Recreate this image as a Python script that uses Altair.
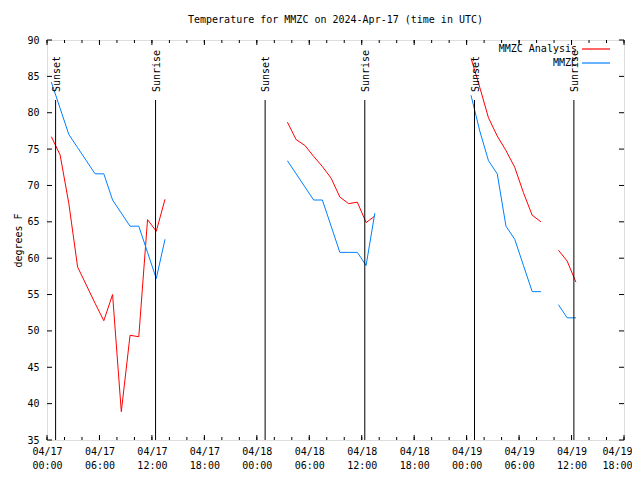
import altair as alt
import pandas as pd

FONT = "DejaVu Sans Mono"

series_names = ["MMZC Analysis", "MMZC"]
series_colors = ["#ff0000", "#0080ff"]

# segment 1 (04/17)
seg1_times = ["2024-04-17T00:30:00Z", "2024-04-17T01:30:00Z", "2024-04-17T02:30:00Z",
              "2024-04-17T03:30:00Z", "2024-04-17T04:30:00Z", "2024-04-17T05:30:00Z",
              "2024-04-17T06:30:00Z", "2024-04-17T07:30:00Z", "2024-04-17T08:30:00Z",
              "2024-04-17T09:30:00Z", "2024-04-17T10:30:00Z", "2024-04-17T11:30:00Z",
              "2024-04-17T12:30:00Z", "2024-04-17T13:30:00Z"]
seg1_analysis = [76.7, 74.2, 67.5, 58.8, 56.3, 53.8, 51.4, 55.0, 38.9, 49.4, 49.2, 65.3, 63.7, 68.1]
seg1_obs = [84.2, 80.6, 77.0, 75.2, 73.4, 71.6, 71.6, 68.0, 66.2, 64.4, 64.4, 60.8, 57.2, 62.6]

# segment 2 (04/18)
seg2_times = ["2024-04-18T03:30:00Z", "2024-04-18T04:30:00Z", "2024-04-18T05:30:00Z",
              "2024-04-18T06:30:00Z", "2024-04-18T07:30:00Z", "2024-04-18T08:30:00Z",
              "2024-04-18T09:30:00Z", "2024-04-18T10:30:00Z", "2024-04-18T11:30:00Z",
              "2024-04-18T12:30:00Z", "2024-04-18T13:30:00Z"]
seg2_analysis = [78.7, 76.3, 75.5, 74.0, 72.6, 71.0, 68.4, 67.5, 67.7, 64.9, 65.8]
seg2_obs = [73.4, 71.6, 69.8, 68.0, 68.0, 64.4, 60.8, 60.8, 60.8, 59.0, 66.2]

# segment 3 (04/19 night)
seg3_times = ["2024-04-19T00:30:00Z", "2024-04-19T01:30:00Z", "2024-04-19T02:30:00Z",
              "2024-04-19T03:30:00Z", "2024-04-19T04:30:00Z", "2024-04-19T05:30:00Z",
              "2024-04-19T06:30:00Z", "2024-04-19T07:30:00Z", "2024-04-19T08:30:00Z"]
seg3_analysis = [87.5, 83.5, 79.3, 76.8, 74.8, 72.5, 69.0, 65.9, 65.0]
seg3_obs = [82.4, 77.5, 73.4, 71.6, 64.4, 62.6, 59.0, 55.4, 55.4]

# segment 4 (04/19 morning)
seg4_times = ["2024-04-19T10:30:00Z", "2024-04-19T11:30:00Z", "2024-04-19T12:30:00Z"]
seg4_analysis = [61.1, 59.6, 56.7]
seg4_obs = [53.6, 51.8, 51.8]

sun_times = ["2024-04-17T00:59:00Z", "2024-04-17T12:25:00Z", "2024-04-18T00:57:00Z",
             "2024-04-18T12:21:00Z", "2024-04-19T00:54:00Z", "2024-04-19T12:16:00Z"]
sun_labels = ["Sunset", "Sunrise", "Sunset", "Sunrise", "Sunset", "Sunrise"]

y_ticks = [35, 40, 45, 50, 55, 60, 65, 70, 75, 80, 85, 90]
x_label_days = [17, 17, 17, 17, 18, 18, 18, 18, 19, 19, 19, 19]
x_label_hours = [0, 6, 12, 18, 0, 6, 12, 18, 0, 6, 12, 18]

W, H = 577, 400

rows = []
segments = [(seg1_times, seg1_analysis, seg1_obs), (seg2_times, seg2_analysis, seg2_obs),
            (seg3_times, seg3_analysis, seg3_obs), (seg4_times, seg4_analysis, seg4_obs)]
for si, (tt, a, o) in enumerate(segments):
    for t, v in zip(tt, a):
        rows.append({"time": t, "temp": v, "series": series_names[0], "key": f"a{si}"})
    for t, v in zip(tt, o):
        rows.append({"time": t, "temp": v, "series": series_names[1], "key": f"o{si}"})
df = pd.DataFrame(rows)

x_major = [pd.Timestamp(f"2024-04-{d}T{h:02d}:00:00Z").isoformat() for d, h in zip(x_label_days, x_label_hours)]
x_minor = [t.isoformat() for t in pd.date_range("2024-04-17T00:00:00Z", "2024-04-19T18:00:00Z", freq="2h")]

x_scale = alt.Scale(type="utc",
                    domain=[alt.DateTime(year=2024, month=4, date=17, hours=0, utc=True),
                            alt.DateTime(year=2024, month=4, date=19, hours=18, utc=True)])
y_scale = alt.Scale(domain=[35, 90], nice=False, zero=False)

x_axis = alt.Axis(values=[alt.DateTime(year=2024, month=4, date=d, hours=h, utc=True)
                          for d, h in zip(x_label_days, x_label_hours)],
                  labelExpr="[utcFormat(datum.value, '%m/%d'), utcFormat(datum.value, '%H:%M')]",
                  ticks=False, domain=False, grid=False, labelFont=FONT, labelFontSize=10,
                  labelColor="black", labelPadding=6, labelLineHeight=14, labelAngle=0,
                  labelFlush=False, labelOverlap=False,
                  labelOffset={"condition": {"test": "datum.index > 0.99", "value": -7}, "value": 0})
y_axis = alt.Axis(values=y_ticks, ticks=False, domain=False, grid=False, labelFont=FONT,
                  labelFontSize=10, labelColor="black", labelPadding=8, labelOverlap=False,
                  labelFlush=False, titleFont=FONT,
                  titleFontSize=10, titleFontWeight="normal", titleColor="black", titlePadding=3)

XA = alt.X("time:T", scale=x_scale, axis=x_axis, title=None)
YA = alt.Y("temp:Q", scale=y_scale, axis=y_axis, title="degrees F")

lines = alt.Chart(df).mark_line(strokeWidth=1).encode(
    x=XA, y=YA,
    color=alt.Color("series:N", scale=alt.Scale(domain=series_names, range=series_colors), legend=None),
    detail="key:N",
    order=alt.Order("time:T"),
)

sun_df = pd.DataFrame({"time": sun_times, "label": sun_labels})
sun_rules = alt.Chart(sun_df).mark_rule(color="black", strokeWidth=1).encode(
    x=XA, y=alt.value(60), y2=alt.value(H))
sun_text = alt.Chart(sun_df).mark_text(angle=270, align="left", baseline="middle", dy=1,
                                       font=FONT, fontSize=10, color="black").encode(
    x=XA, y=alt.value(52), text="label:N")

xmaj_df = pd.DataFrame({"time": x_major})
xmin_df = pd.DataFrame({"time": x_minor})
ytk_df = pd.DataFrame({"temp": y_ticks})
tick_style = dict(color="black", strokeWidth=1)
ticks = [
    alt.Chart(xmaj_df).mark_rule(**tick_style).encode(x=XA, y=alt.value(H), y2=alt.value(H - 5)),
    alt.Chart(xmaj_df).mark_rule(**tick_style).encode(x=XA, y=alt.value(0), y2=alt.value(5)),
    alt.Chart(xmin_df).mark_rule(**tick_style).encode(x=XA, y=alt.value(H), y2=alt.value(H - 3)),
    alt.Chart(xmin_df).mark_rule(**tick_style).encode(x=XA, y=alt.value(0), y2=alt.value(3)),
    alt.Chart(ytk_df).mark_rule(**tick_style).encode(y=YA, x=alt.value(0), x2=alt.value(5)),
    alt.Chart(ytk_df).mark_rule(**tick_style).encode(y=YA, x=alt.value(W - 5), x2=alt.value(W)),
]

legend_layers = []
for i, (name, col) in enumerate(zip(series_names, series_colors)):
    ldf = pd.DataFrame({"series": [name]})
    yy = 9 + 14 * i
    legend_layers.append(alt.Chart(ldf).mark_text(align="right", baseline="middle", font=FONT,
                                                  fontSize=10, color="black").encode(
        x=alt.value(530), y=alt.value(yy), text="series:N"))
    legend_layers.append(alt.Chart(ldf).mark_rule(strokeWidth=1.2).encode(
        x=alt.value(535), x2=alt.value(563), y=alt.value(yy), color=alt.value(col)))

chart = alt.layer(lines, sun_rules, sun_text, *ticks, *legend_layers).properties(
    width=W, height=H,
    title=alt.TitleParams("Temperature for MMZC on 2024-Apr-17 (time in UTC)", font=FONT,
                          fontSize=10, fontWeight="normal", anchor="middle", offset=10, color="black"),
    padding={"left": 39, "top": 32, "right": 8, "bottom": 32},
    autosize="none",
).configure_view(stroke="black", strokeWidth=1).configure(background="white")

chart.save("out.html", embed_options={"renderer": "svg", "actions": False})
